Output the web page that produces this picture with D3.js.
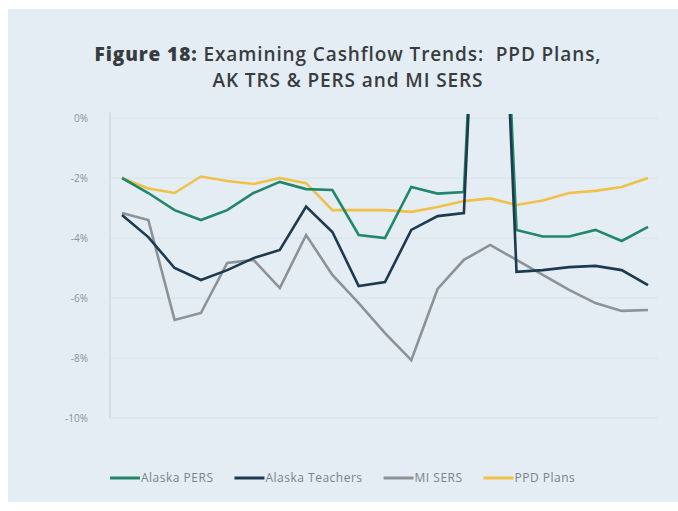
<!DOCTYPE html>
<html>
<head>
<meta charset="utf-8">
<script src="https://cdn.jsdelivr.net/npm/d3@7"></script>
<style>
  html, body { margin: 0; padding: 0; background: #ffffff; }
  svg { display: block; font-family: "Open Sans", "DejaVu Sans", sans-serif; }
</style>
</head>
<body>
<div class="chartCanvas"></div>
<script>
// periods along the x axis (no labels shown in the original)
const periods = [1, 2, 3, 4, 5, 6, 7, 8, 9, 10, 11, 12, 13, 14, 15, 16, 17, 18, 19, 20, 21];

// net cashflow as % of assets
const alaskaPers     = [-2.0, -2.5, -3.07, -3.4, -3.07, -2.5, -2.13, -2.37, -2.4, -3.9, -4.0, -2.3, -2.52, -2.47, 16.0, -3.73, -3.95, -3.95, -3.73, -4.1, -3.63];
const alaskaTeachers = [-3.23, -3.97, -5.0, -5.4, -5.07, -4.67, -4.4, -2.95, -3.8, -5.6, -5.47, -3.73, -3.27, -3.17, 16.0, -5.13, -5.07, -4.97, -4.93, -5.07, -5.57];
const miSers         = [-3.17, -3.4, -6.73, -6.5, -4.83, -4.73, -5.67, -3.9, -5.23, -6.17, -7.17, -8.07, -5.7, -4.73, -4.23, -4.73, -5.23, -5.73, -6.17, -6.43, -6.4];
const ppdPlans       = [-2.0, -2.35, -2.5, -1.95, -2.1, -2.2, -2.0, -2.17, -3.07, -3.07, -3.07, -3.13, -2.97, -2.77, -2.68, -2.9, -2.75, -2.5, -2.43, -2.3, -2.0];

const yTicks = [0, -2, -4, -6, -8, -10];

const seriesNames  = ["Alaska PERS", "Alaska Teachers", "MI SERS", "PPD Plans"];
const seriesColors = ["#22876a", "#1d3a4f", "#8d9297", "#f1c048"];

const width = 678, height = 511;

const svg = d3.select(".chartCanvas")
    .append("svg")
    .attr("width", width)
    .attr("height", height);

// panel background
svg.append("rect")
    .attr("x", 8).attr("y", 9)
    .attr("width", width - 8).attr("height", 493)
    .attr("fill", "#e3edf3");

// title: bold lead-in + semi-bold rest, centred together
const titleG = svg.append("g")
    .attr("fill", "#383c40")
    .style("font-size", "19px")
    .style("letter-spacing", "0.9px");
const lead = titleG.append("text")
    .attr("y", 61)
    .style("font-weight", 800)
    .text("Figure 18:");
const rest = titleG.append("text")
    .attr("y", 61)
    .attr("xml:space", "preserve")
    .style("font-weight", 600)
    .style("white-space", "pre")
    .text(" Examining Cashflow Trends:  PPD Plans,");
const leadW = lead.node().getComputedTextLength();
const restW = rest.node().getComputedTextLength();
const startX = 348 - (leadW + restW) / 2;
lead.attr("x", startX);
rest.attr("x", startX + leadW);
titleG.append("text")
    .attr("x", 348).attr("y", 87)
    .attr("text-anchor", "middle")
    .style("font-weight", 600)
    .text("AK TRS & PERS and MI SERS");

const x = d3.scalePoint().domain(periods).range([122, 648]);
const y = d3.scaleLinear().domain([-10, 0]).range([418, 118]);

// gridlines
svg.append("g")
    .selectAll("line")
    .data(yTicks).enter()
    .append("line")
    .attr("x1", 110).attr("x2", 658)
    .attr("y1", d => y(d)).attr("y2", d => y(d))
    .attr("stroke", "#d6e2ea")
    .attr("stroke-width", 1);

// y axis line
svg.append("line")
    .attr("x1", 110).attr("x2", 110)
    .attr("y1", y(0) - 6).attr("y2", y(-10))
    .attr("stroke", "#c3ced6")
    .attr("stroke-width", 1);

// y tick labels
svg.append("g")
    .selectAll("text")
    .data(yTicks).enter()
    .append("text")
    .attr("x", 88)
    .attr("y", d => y(d))
    .attr("dy", "0.35em")
    .attr("text-anchor", "end")
    .attr("fill", "#8b9299")
    .style("font-size", "10px")
    .text(d => d + "%");

// lines, clipped just above the 0% line
svg.append("clipPath").attr("id", "plotClip")
    .append("rect")
    .attr("x", 105).attr("y", 114)
    .attr("width", 560).attr("height", 310);

const allSeries = [alaskaPers, alaskaTeachers, miSers, ppdPlans];
const line = d3.line()
    .x((d, i) => x(periods[i]))
    .y(d => y(d));

// draw order: grey and yellow under the Alaska lines
const drawOrder = [2, 3, 0, 1];
svg.append("g")
    .attr("clip-path", "url(#plotClip)")
    .selectAll("path")
    .data(drawOrder).enter()
    .append("path")
    .attr("d", k => line(allSeries[k]))
    .attr("fill", "none")
    .attr("stroke", k => seriesColors[k])
    .attr("stroke-width", 2.6)
    .attr("stroke-linejoin", "miter");

// legend
const legend = svg.append("g").attr("transform", "translate(110,478)");
let lx = 0;
seriesNames.forEach((name, k) => {
    legend.append("line")
        .attr("x1", lx).attr("x2", lx + 30)
        .attr("y1", 0).attr("y2", 0)
        .attr("stroke", seriesColors[k])
        .attr("stroke-width", 3);
    const t = legend.append("text")
        .attr("x", lx + 31)
        .attr("y", 0)
        .attr("dy", "0.35em")
        .attr("fill", "#7a828a")
        .style("font-size", "12px")
        .style("letter-spacing", "0.5px")
        .text(name);
    lx += 31 + t.node().getComputedTextLength() + 21;
});
</script>
</body>
</html>
